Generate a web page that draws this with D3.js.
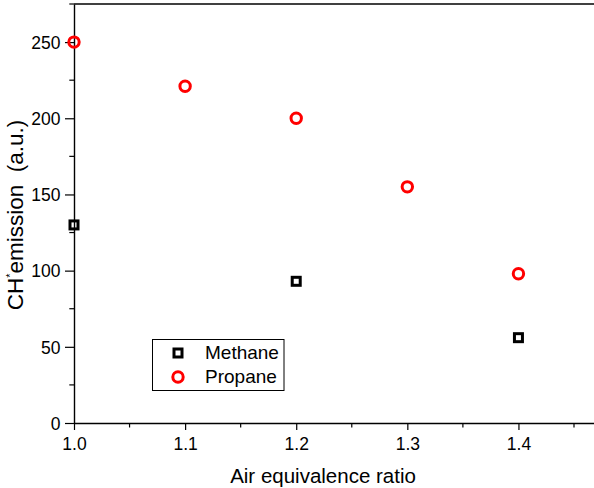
<!DOCTYPE html>
<html>
<head>
<meta charset="utf-8">
<script src="https://cdn.jsdelivr.net/npm/d3@7"></script>
<style>
  html, body { margin: 0; padding: 0; background: #fff; }
  svg { display: block; }
  svg text { font-family: "Liberation Sans", Arial, sans-serif; fill: #000; }
  .axis text { font-size: 17.5px; }
</style>
</head>
<body>
<svg id="chart" width="594" height="488"></svg>
<script>
// Air equivalence ratio vs CH* emission
const methaneRatio = [1.0, 1.2, 1.4];
const methaneCH = [130, 93, 56];
const propaneRatio = [1.0, 1.1, 1.2, 1.3, 1.4];
const propaneCH = [250, 221, 200, 155, 98];
const xTicks = [1.0, 1.1, 1.2, 1.3, 1.4];
const yTicks = [0, 50, 100, 150, 200, 250];
const seriesNames = ["Methane", "Propane"];

const svg = d3.select("#chart");
const plotLeft = 74, plotRight = 594, plotTop = 4, plotBottom = 423;

const x = d3.scaleLinear().domain([1.0, 1.468]).range([plotLeft, plotRight]);
const y = d3.scaleLinear().domain([0, 275]).range([plotBottom, plotTop]);

// x axis with major and minor ticks
const xAxis = d3.axisBottom(x).tickValues(xTicks).tickFormat(d3.format(".1f")).tickSize(7).tickSizeOuter(0);
const gx = svg.append("g").attr("class", "axis").attr("transform", `translate(0,${plotBottom})`).call(xAxis)
  .attr("font-size", 17.5).attr("font-family", "Liberation Sans, Arial, sans-serif");
gx.selectAll(".tick text").attr("dy", "0").attr("y", 27);
const xMinor = d3.range(1.05, 1.46, 0.1);
gx.selectAll(".minor").data(xMinor).enter().append("line")
  .attr("x1", d => x(d)).attr("x2", d => x(d)).attr("y1", 0).attr("y2", 4.5).attr("stroke", "#000").attr("stroke-width", 1.2);

// y axis with major and minor ticks
const yAxis = d3.axisLeft(y).tickValues(yTicks).tickSize(9).tickSizeOuter(0);
const gy = svg.append("g").attr("class", "axis").attr("transform", `translate(${plotLeft},0)`).call(yAxis)
  .attr("font-size", 17.5).attr("font-family", "Liberation Sans, Arial, sans-serif");
gy.selectAll(".tick text").attr("x", -13.5).attr("dy", "0.36em");
const yMinor = d3.range(25, 276, 50);
gy.selectAll(".minor").data(yMinor).enter().append("line")
  .attr("x1", 0).attr("x2", -4.7).attr("y1", d => y(d)).attr("y2", d => y(d)).attr("stroke", "#000").attr("stroke-width", 1.2);

svg.selectAll(".domain").attr("stroke", "#000").attr("stroke-width", 1.4);
svg.selectAll(".tick line").attr("stroke", "#000").attr("stroke-width", 1.2);

// top frame line
svg.append("line").attr("x1", plotLeft).attr("x2", plotRight).attr("y1", y(275)).attr("y2", y(275))
  .attr("stroke", "#000").attr("stroke-width", 1.4);

// axis titles
svg.append("text").attr("x", 323).attr("y", 483).attr("text-anchor", "middle")
  .style("font-size", "20.5px").text("Air equivalence ratio");
const yl = svg.append("text").attr("transform", "translate(23,215) rotate(-90)")
  .attr("text-anchor", "middle").style("font-size", "22.5px");
yl.append("tspan").text("CH");
yl.append("tspan").attr("dy", "-9").style("font-size", "11px").text("*");
yl.append("tspan").attr("dy", "9").text("emission\u00a0\u00a0(a.u.)");

// markers
const sq = 8;
svg.selectAll(".methane").data(methaneRatio).enter().append("rect")
  .attr("x", d => x(d) - sq / 2).attr("y", (d, i) => y(methaneCH[i]) - sq / 2)
  .attr("width", sq).attr("height", sq)
  .attr("fill", "none").attr("stroke", "#000").attr("stroke-width", 3);
svg.selectAll(".propane").data(propaneRatio).enter().append("circle")
  .attr("cx", d => x(d)).attr("cy", (d, i) => y(propaneCH[i])).attr("r", 5.2)
  .attr("fill", "none").attr("stroke", "#f00").attr("stroke-width", 3);

// legend
const lg = svg.append("g");
lg.append("rect").attr("x", 152.5).attr("y", 339.5).attr("width", 131.5).attr("height", 51)
  .attr("fill", "#fff").attr("stroke", "#000").attr("stroke-width", 1);
lg.append("rect").attr("x", 178 - sq / 2).attr("y", 353 - sq / 2).attr("width", sq).attr("height", sq)
  .attr("fill", "none").attr("stroke", "#000").attr("stroke-width", 3);
lg.append("circle").attr("cx", 178).attr("cy", 377).attr("r", 5.2)
  .attr("fill", "none").attr("stroke", "#f00").attr("stroke-width", 3);
lg.selectAll(".lt").data(seriesNames).enter().append("text")
  .attr("x", 205).attr("y", (d, i) => 358.5 + i * 24.5)
  .style("font-size", "19px").text(d => d);
</script>
</body>
</html>
